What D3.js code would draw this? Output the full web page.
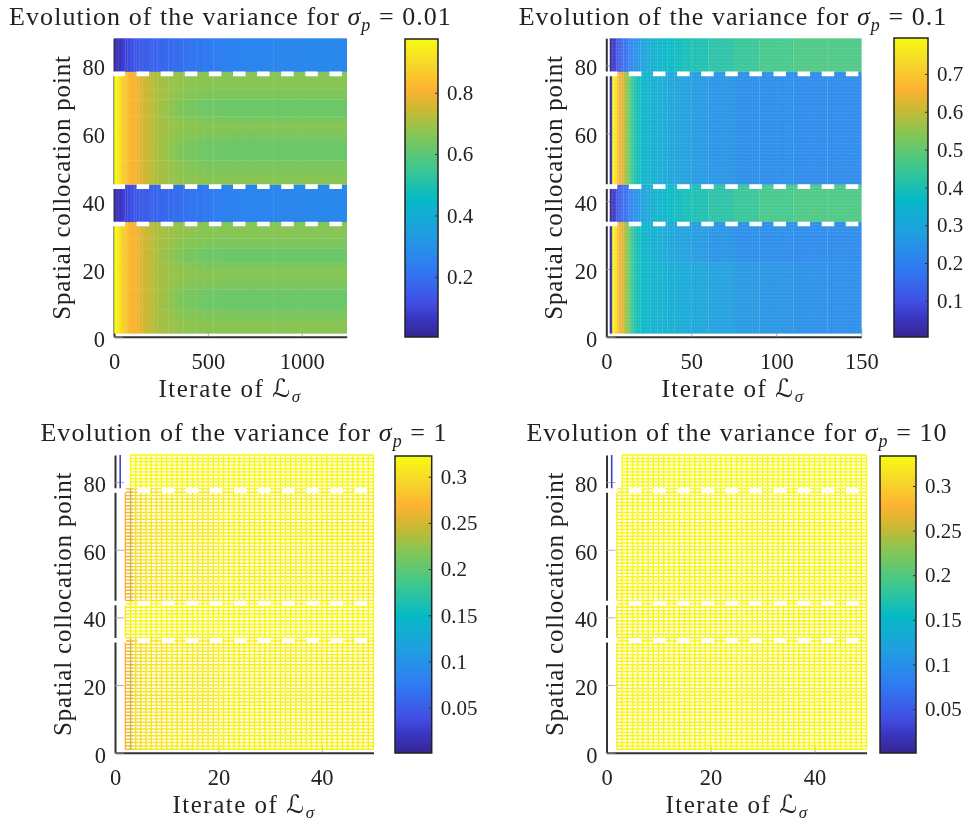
<!DOCTYPE html>
<html>
<head>
<meta charset="utf-8">
<script src="https://cdn.jsdelivr.net/npm/d3@7"></script>
<style>
  html, body { margin: 0; background: #fff; }
  svg { display: block; filter: blur(0.45px); }
  text { font-family: "Liberation Serif", serif; fill: #222; white-space: pre; }
</style>
</head>
<body>
<svg id="chart" width="966" height="823"></svg>
<script>
const sigmas = ['0.01', '0.1', '1', '10'];
const yTicks = [0, 20, 40, 60, 80];
const yMax = 88;
const dashRows = [33.25, 44.25, 77.5];

// colormap stops (fraction of bar height -> colour)
const mapStops = [0, 0.06, 0.12, 0.24, 0.35, 0.46, 0.57, 0.68, 0.76, 0.83, 0.92, 1];
const mapColors = ['#35268f', '#3a35c0', '#4050e6', '#2f7ef2', '#1f9fe0', '#05bac6', '#3fc88e',
  '#86c654', '#c9b932', '#fdb232', '#f6d92a', '#f8fb10'];

// sigma = 0.01
const p1Iterates = [1, 12, 24, 36, 48, 60, 72, 84, 96, 108, 120, 135, 150, 165, 180, 195, 210, 230, 250, 270, 290, 315, 340, 370, 400, 440, 480, 530, 590, 660, 750, 850, 1000, 1240];
const p1Ridge  = [.97, .95, .92, .89, .87, .85, .83, .82, .81, .80, .79, .775, .76, .745, .735, .725, .715, .705, .70, .695, .69, .685, .68, .675, .672, .67, .668, .666, .665, .665, .665, .665, .665];
const p1Slope  = [.97, .95, .92, .89, .87, .85, .83, .82, .81, .80, .79, .775, .76, .745, .735, .725, .715, .705, .70, .69, .685, .68, .67, .665, .66, .655, .652, .65, .648, .648, .648, .648, .648];
const p1Valley = [.97, .95, .92, .89, .87, .85, .83, .82, .81, .80, .79, .775, .76, .745, .735, .725, .715, .705, .695, .685, .675, .665, .655, .645, .64, .635, .63, .628, .625, .625, .625, .625, .625];
const p1Band   = [.03, .045, .06, .075, .09, .10, .11, .12, .13, .135, .14, .145, .15, .155, .16, .165, .17, .175, .18, .185, .19, .195, .20, .21, .215, .22, .23, .24, .25, .255, .26, .265, .27];
const p1RowEdges = [1, 5, 8, 14, 17, 20, 22, 26, 29, 33.9, 44.9, 48, 52, 58, 61, 63, 65, 70, 73, 78.2, 88];
const p1RowSeries = [p1Ridge, p1Slope, p1Valley, p1Slope, p1Ridge, p1Slope, p1Valley, p1Slope, p1Ridge, p1Band,
  p1Ridge, p1Slope, p1Valley, p1Slope, p1Ridge, p1Slope, p1Valley, p1Slope, p1Ridge, p1Band];
const p1XTicks = [0, 500, 1000];
const p1BarTicks = [0.2, 0.4, 0.6, 0.8];

// sigma = 0.1
const p2Iterates = [2, 3.5, 5, 6, 7, 8, 9, 10, 11, 12, 13, 14, 15, 16, 18, 20, 22, 24, 26, 28, 30, 33, 36, 40, 45, 50, 60, 75, 90, 110, 130, 150];
const p2Main    = [.02, .78, .75, .70, .67, .65, .63, .60, .57, .54, .50, .47, .44, .41, .385, .365, .35, .34, .335, .33, .325, .31, .30, .29, .28, .265, .25, .235, .23, .225, .225];
const p2Lighter = [.02, .78, .75, .70, .67, .65, .63, .60, .57, .54, .50, .47, .44, .41, .385, .365, .355, .35, .345, .34, .335, .33, .325, .32, .31, .30, .285, .26, .25, .24, .235];
const p2Band    = [.02, .05, .08, .10, .12, .13, .15, .16, .17, .18, .19, .20, .22, .24, .26, .28, .30, .32, .33, .34, .35, .36, .37, .38, .39, .40, .42, .44, .46, .47, .47];
const p2RowEdges = [1, 22, 33.9, 44.9, 78.2, 88];
const p2RowSeries = [p2Lighter, p2Main, p2Band, p2Main, p2Band];
const p2XTicks = [0, 50, 100, 150];
const p2BarTicks = [0.1, 0.2, 0.3, 0.4, 0.5, 0.6, 0.7];

// sigma = 1
const p3Iterates = [2, 3, 3.5, 6, 10, 20, 50];
const p3Main = [.267, .25, .30, .305, .31, .315];
const p3Mid  = [.31, .315, .32, .32, .32, .32];
const p3Top  = [null, .32, .32, .32, .32, .32];
const p3RowEdges = [1, 33.9, 44.9, 78.2, 88];
const p3RowSeries = [p3Main, p3Mid, p3Main, p3Top];
const p3XTicks = [0, 20, 40];
const p3BarTicks = [0.05, 0.1, 0.15, 0.2, 0.25, 0.3];
const p3FirstColumn = 0.03;

// sigma = 10
const p4Iterates = [2, 3, 50];
const p4Main = [.325, .33];
const p4Top  = [null, .333];
const p4RowEdges = [1, 78.2, 88];
const p4RowSeries = [p4Main, p4Top];
const p4XTicks = [0, 20, 40];
const p4BarTicks = [0.05, 0.1, 0.15, 0.2, 0.25, 0.3];
const p4FirstColumn = 0.03;

const panels = [
  { sigma: sigmas[0], iterates: p1Iterates, rowEdges: p1RowEdges, rowSeries: p1RowSeries, xTicks: p1XTicks, barTicks: p1BarTicks,
    xMax: 1240, barDomain: [0.004, 0.975], style: 'solid',
    plot: [114, 346.7, 336.7, 38.3], bar: [405, 438, 337, 39], titleX: 230.5, titleY: 25, labelX: 230 },
  { sigma: sigmas[1], iterates: p2Iterates, rowEdges: p2RowEdges, rowSeries: p2RowSeries, xTicks: p2XTicks, barTicks: p2BarTicks,
    xMax: 150, barDomain: [0.0045, 0.795], style: 'fine',
    plot: [606.3, 861.3, 336.7, 38.3], bar: [894, 928, 337, 38], titleX: 733, titleY: 25, labelX: 733 },
  { sigma: sigmas[2], iterates: p3Iterates, rowEdges: p3RowEdges, rowSeries: p3RowSeries, xTicks: p3XTicks, barTicks: p3BarTicks,
    xMax: 50, barDomain: [0.001, 0.3224], style: 'mesh', firstColumn: p3FirstColumn,
    plot: [115, 373.5, 752.7, 455], bar: [395, 431.7, 753, 456], titleX: 244, titleY: 441, labelX: 244 },
  { sigma: sigmas[3], iterates: p4Iterates, rowEdges: p4RowEdges, rowSeries: p4RowSeries, xTicks: p4XTicks, barTicks: p4BarTicks,
    xMax: 50, barDomain: [0.0007, 0.3336], style: 'mesh', firstColumn: p4FirstColumn,
    plot: [606.5, 866.5, 752.7, 455], bar: [880, 916, 753, 456], titleX: 737, titleY: 441, labelX: 737 }
];

const svg = d3.select('#chart');

const mapColor = d3.scaleLinear().domain(mapStops).range(mapColors).clamp(true);

// fraction of the bar -> colour, for one panel's range
function colorFor(domain) {
  const toFraction = d3.scaleLinear().domain(domain).range([0, 1]);
  return v => mapColor(toFraction(v));
}

function drawTitle(g, p) {
  const t = g.append('text')
    .attr('x', p.titleX).attr('y', p.titleY)
    .attr('text-anchor', 'middle')
    .style('font-size', '26px')
    .style('letter-spacing', '1.05px');
  t.append('tspan').text('Evolution of the variance for ');
  t.append('tspan').style('font-style', 'italic').text('σ');
  t.append('tspan').attr('dy', 6).style('font-style', 'italic').style('font-size', '18px').text('p');
  t.append('tspan').attr('dy', -6).text(' = ' + p.sigma);
}

function drawAxes(g, p, x, y) {
  const bottom = g.append('g')
    .attr('transform', `translate(0,${p.plot[2]})`)
    .call(d3.axisBottom(x).tickValues(p.xTicks).tickSize(-8).tickSizeOuter(0).tickPadding(16).tickFormat(d => String(d)));
  const left = g.append('g')
    .attr('transform', `translate(${p.plot[0]},0)`)
    .call(d3.axisLeft(y).tickValues(yTicks).tickSize(-9).tickSizeOuter(0).tickPadding(9));
  [bottom, left].forEach(a => {
    a.select('.domain').attr('stroke', '#333').attr('stroke-width', 2);
    a.selectAll('.tick line').attr('stroke', '#999').attr('stroke-width', 0.8);
    a.selectAll('text').style('font-size', '22.5px').style('font-family', '"Liberation Serif", serif').attr('fill', '#222');
  });
  left.selectAll('text').attr('dy', '0.42em');

  const xl = g.append('text')
    .attr('x', p.labelX).attr('y', p.plot[2] + 60)
    .attr('text-anchor', 'middle')
    .style('font-size', '25px')
    .style('letter-spacing', '1.5px');
  xl.append('tspan').text('Iterate of ');
  xl.append('tspan').style('font-family', '"DejaVu Serif", "DejaVu Sans", serif').style('font-style', 'italic').text('ℒ');
  xl.append('tspan').attr('dy', 5).style('font-style', 'italic').style('font-size', '17px').text('σ');

  g.append('text')
    .attr('transform', `translate(${p.plot[0] - 44},${(p.plot[2] + p.plot[3]) / 2}) rotate(-90)`)
    .attr('text-anchor', 'middle')
    .style('font-size', '25px')
    .style('letter-spacing', '0.8px')
    .text('Spatial collocation point');
}

// one block per column segment and row band
function surfaceCells(p) {
  const cells = [];
  p.rowSeries.forEach((series, j) => {
    series.forEach((value, i) => {
      if (value === null) return;
      cells.push({
        value,
        x0: p.iterates[i], x1: p.iterates[i + 1],
        y0: p.rowEdges[j], y1: p.rowEdges[j + 1]
      });
    });
  });
  return cells;
}

function drawSurface(g, p, x, y, color) {
  const cells = surfaceCells(p);

  if (p.style !== 'mesh') {
    g.append('g').selectAll('rect')
      .data(cells)
      .join('rect')
      .attr('x', d => x(d.x0))
      .attr('y', d => y(d.y1))
      .attr('width', d => x(d.x1) - x(d.x0) + 0.3)
      .attr('height', d => y(d.y0) - y(d.y1) + 0.3)
      .attr('fill', d => color(d.value));
  }

  if (p.style === 'fine') {
    const grid = d3.path();
    d3.range(1, yMax + 1).forEach(r => { grid.moveTo(x(2), y(r)); grid.lineTo(x(p.xMax), y(r)); });
    d3.range(2, p.xMax + 1).forEach(c => { grid.moveTo(x(c), y(1)); grid.lineTo(x(c), y(yMax)); });
    g.append('path').attr('d', grid.toString()).attr('fill', 'none')
      .attr('stroke', '#fff').attr('stroke-width', 0.5).attr('stroke-opacity', 0.16);
  }

  if (p.style === 'mesh') {
    g.append('g').selectAll('path')
      .data(cells)
      .join('path')
      .attr('fill', 'none')
      .attr('stroke', d => color(d.value))
      .attr('stroke-width', 1.4)
      .attr('d', d => {
        const m = d3.path();
        const last = d.x1 === p.xMax;
        d3.range(Math.ceil(d.x0), last ? d.x1 + 1 : Math.ceil(d.x1)).forEach(c => { m.moveTo(x(c), y(d.y0)); m.lineTo(x(c), y(d.y1)); });
        const topRow = d.y1 === yMax;
        d3.range(Math.ceil(d.y0), topRow ? d.y1 + 1 : Math.ceil(d.y1)).forEach(r => { m.moveTo(x(d.x0), y(r)); m.lineTo(x(d.x1), y(r)); });
        return m.toString();
      });
    // lone first iterate, only in the top band
    g.append('line')
      .attr('x1', x(1)).attr('x2', x(1))
      .attr('y1', y(dashRows[2])).attr('y2', y(yMax))
      .attr('stroke', color(p.firstColumn)).attr('stroke-width', 1.6);
  }
}

function drawDashes(g, p, y) {
  const dash = d3.line().x(d => d[0]).y(d => y(d[1]));
  g.append('g').selectAll('path')
    .data(dashRows)
    .join('path')
    .attr('d', r => dash([[p.plot[0] - 1.5, r], [p.plot[1], r]]))
    .attr('fill', 'none')
    .attr('stroke', '#fff')
    .attr('stroke-width', 4.6)
    .attr('stroke-dasharray', '12.5 11.6');
}

function drawBar(g, p, idx) {
  const [x0, x1, yBottom, yTop] = p.bar;
  const id = 'bar' + idx;
  const grad = svg.append('defs').append('linearGradient').attr('id', id)
    .attr('x1', 0).attr('x2', 0).attr('y1', 1).attr('y2', 0);
  grad.selectAll('stop').data(mapStops).join('stop')
    .attr('offset', d => d)
    .attr('stop-color', (d, i) => mapColors[i]);

  g.append('rect')
    .attr('x', x0).attr('y', yTop)
    .attr('width', x1 - x0).attr('height', yBottom - yTop)
    .attr('fill', `url(#${id})`)
    .attr('stroke', '#222').attr('stroke-width', 1.5);

  const scale = d3.scaleLinear().domain(p.barDomain).range([yBottom, yTop]);
  const a = g.append('g')
    .attr('transform', `translate(${x1},0)`)
    .call(d3.axisRight(scale).tickValues(p.barTicks).tickSize(-3).tickSizeOuter(0).tickPadding(9).tickFormat(d => String(d)));
  a.select('.domain').remove();
  a.selectAll('.tick line').attr('stroke', '#333');
  a.selectAll('text').style('font-size', '21px').style('font-family', '"Liberation Serif", serif').attr('fill', '#222');
}

panels.forEach((p, idx) => {
  const g = svg.append('g');
  const x = d3.scaleLinear().domain([0, p.xMax]).range([p.plot[0], p.plot[1]]);
  const y = d3.scaleLinear().domain([0, yMax]).range([p.plot[2], p.plot[3]]);
  const color = colorFor(p.barDomain);

  drawTitle(g, p);
  drawAxes(g, p, x, y);
  drawSurface(g, p, x, y, color);
  drawDashes(g, p, y);
  drawBar(g, p, idx);
});
</script>
</body>
</html>
